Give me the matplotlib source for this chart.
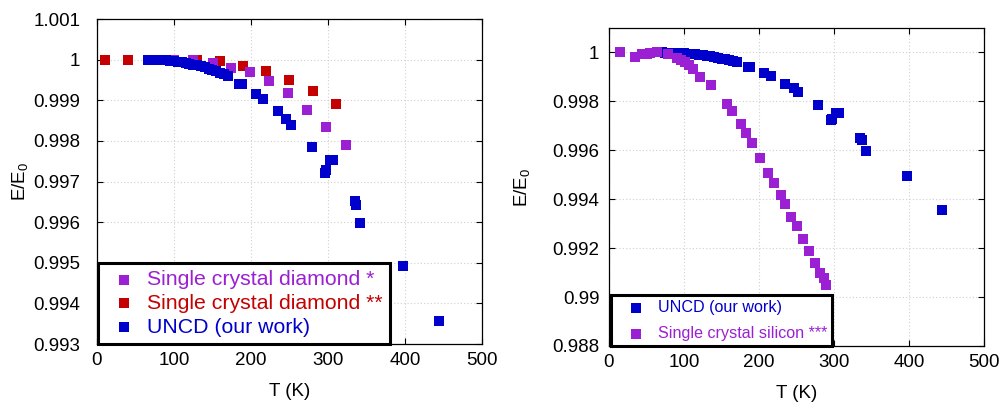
import numpy as np
import matplotlib
matplotlib.use("Agg")
import matplotlib.pyplot as plt
from matplotlib.ticker import FuncFormatter

plt.rcParams['font.family'] = ['Liberation Sans', 'DejaVu Sans']
plt.rcParams['mathtext.default'] = 'regular'

PURPLE = '#9B1FD3'
RED = '#C40000'
BLUE = '#0000CC'

# UNCD (our work)
uncd_T = [66, 70, 75, 80, 85, 90, 95, 100, 105, 110, 115, 120, 125, 130, 135, 140, 145,
          150, 155, 160, 165, 170, 185, 188, 207, 216, 235, 246, 252, 279, 296, 297,
          302, 307, 335, 337, 342, 398, 444]
uncd_E = [1.00000, 1.00000, 0.99999, 0.99999, 0.99998, 0.99998, 0.99997, 0.99996, 0.99995,
          0.99994, 0.99992, 0.99990, 0.99988, 0.99986, 0.99984, 0.99981, 0.99978, 0.99975,
          0.99972, 0.99968, 0.99964, 0.99960, 0.99941, 0.99939, 0.99916, 0.99903, 0.99873,
          0.99853, 0.99840, 0.99785, 0.99722, 0.99728, 0.99752, 0.99752, 0.99651, 0.99643,
          0.99599, 0.99493, 0.99357]

# single crystal diamond *
scd1_T = [100, 125, 151, 174, 199, 223, 248, 273, 298, 323]
scd1_E = [1.00000, 0.99998, 0.99992, 0.99980, 0.99969, 0.99948, 0.99917, 0.99875, 0.99833, 0.99790]

# single crystal diamond **
scd2_T = [10, 40, 70, 100, 130, 160, 190, 220, 250, 280, 310]
scd2_E = [1.00000, 1.00000, 1.00000, 1.00000, 0.99999, 0.99996, 0.99984, 0.99971, 0.99949, 0.99922, 0.99891]

# single crystal silicon ***
si_T = [15, 35, 44, 50, 55, 64, 79, 90, 96, 101, 107, 112, 121, 136, 157, 164, 176, 182, 191,
        201, 212, 220, 229, 235, 243, 251, 259, 267, 274, 281, 286, 289]
si_E = [1.00000, 0.99982, 0.99992, 0.99995, 0.99999, 1.00000, 0.99992, 0.99978, 0.99970,
        0.99960, 0.99948, 0.99931, 0.99901, 0.99865, 0.99788, 0.99760, 0.99709, 0.99669,
        0.99629, 0.99570, 0.99509, 0.99468, 0.99419, 0.99380, 0.99327, 0.99289, 0.99237,
        0.99189, 0.99139, 0.99098, 0.99076, 0.99049]

W, H = 1004, 412
fig = plt.figure(figsize=(W / 100, H / 100), dpi=100)
ax1 = fig.add_axes([97 / W, 1 - 344 / H, 385 / W, 325 / H])
ax2 = fig.add_axes([609 / W, 1 - 346 / H, 375 / W, 318 / H])

fmt = FuncFormatter(lambda v, p: '%g' % round(v, 4))
MS = 48


def style(ax, ylo, yhi, ystep, ypad):
    ax.set_xlim(0, 500)
    ax.set_ylim(ylo, yhi)
    ax.set_xticks(np.arange(0, 501, 100))
    ax.set_yticks(np.arange(ylo, yhi + ystep / 2, ystep))
    ax.yaxis.set_major_formatter(fmt)
    ax.grid(True, color='#d0d0d0', linestyle=(0, (1, 2)), linewidth=0.8)
    ax.set_axisbelow(True)
    ax.tick_params(direction='in', top=True, right=True, length=4, width=0.8,
                   labelsize=13.5, colors='black')
    ax.tick_params(axis='x', pad=6)
    ax.tick_params(axis='y', pad=ypad)
    for s in ax.spines.values():
        s.set_linewidth(0.9)
    ax.set_xlabel('T (K)', fontsize=13.5, labelpad=10)
    ax.set_ylabel('E/E$_0$', fontsize=13.5)


style(ax1, 0.993, 1.001, 0.001, 12)
style(ax2, 0.988, 1.001, 0.002, 7)
ax2.set_yticks(np.arange(0.988, 1.0005, 0.002))
ax1.yaxis.set_label_coords(-0.175, 0.5)
ax2.yaxis.set_label_coords(-0.205, 0.5)

# left panel: diamond comparison
h_red = ax1.scatter(scd2_T, scd2_E, s=MS, marker='s', color=RED, linewidths=0, zorder=3)
h_pur = ax1.scatter(scd1_T, scd1_E, s=MS, marker='s', color=PURPLE, linewidths=0, zorder=3)
h_blu = ax1.scatter(uncd_T, uncd_E, s=MS, marker='s', color=BLUE, linewidths=0, zorder=3)

leg1 = ax1.legend([h_pur, h_red, h_blu],
                  ['Single crystal diamond *', 'Single crystal diamond **', 'UNCD (our work)'],
                  loc='lower left', bbox_to_anchor=(0.003, 0.0), borderaxespad=0,
                  fontsize=15.3, borderpad=0.35, handlelength=1.75, handletextpad=0.2,
                  labelspacing=0.22, fancybox=False, edgecolor='black', framealpha=1,
                  scatterpoints=1, markerscale=1.1)
leg1.get_frame().set_linewidth(2.2)
leg1.set_zorder(5)
for t, c in zip(leg1.get_texts(), [PURPLE, RED, BLUE]):
    t.set_color(c)

# right panel: silicon comparison
h2_blu = ax2.scatter(uncd_T, uncd_E, s=MS, marker='s', color=BLUE, linewidths=0, zorder=3)
h2_pur = ax2.scatter(si_T, si_E, s=MS, marker='s', color=PURPLE, linewidths=0, zorder=3)

leg2 = ax2.legend([h2_blu, h2_pur], ['UNCD (our work)', 'Single crystal silicon ***'],
                  loc='lower left', bbox_to_anchor=(0.005, 0.0), borderaxespad=0,
                  fontsize=11.6, borderpad=0.32, handlelength=2.5, handletextpad=0.1,
                  labelspacing=0.65, fancybox=False, edgecolor='black', framealpha=1,
                  scatterpoints=1)
leg2.get_frame().set_linewidth(2.2)
leg2.set_zorder(5)
for t, c in zip(leg2.get_texts(), [BLUE, PURPLE]):
    t.set_color(c)

fig.savefig('out.png', dpi=100)
